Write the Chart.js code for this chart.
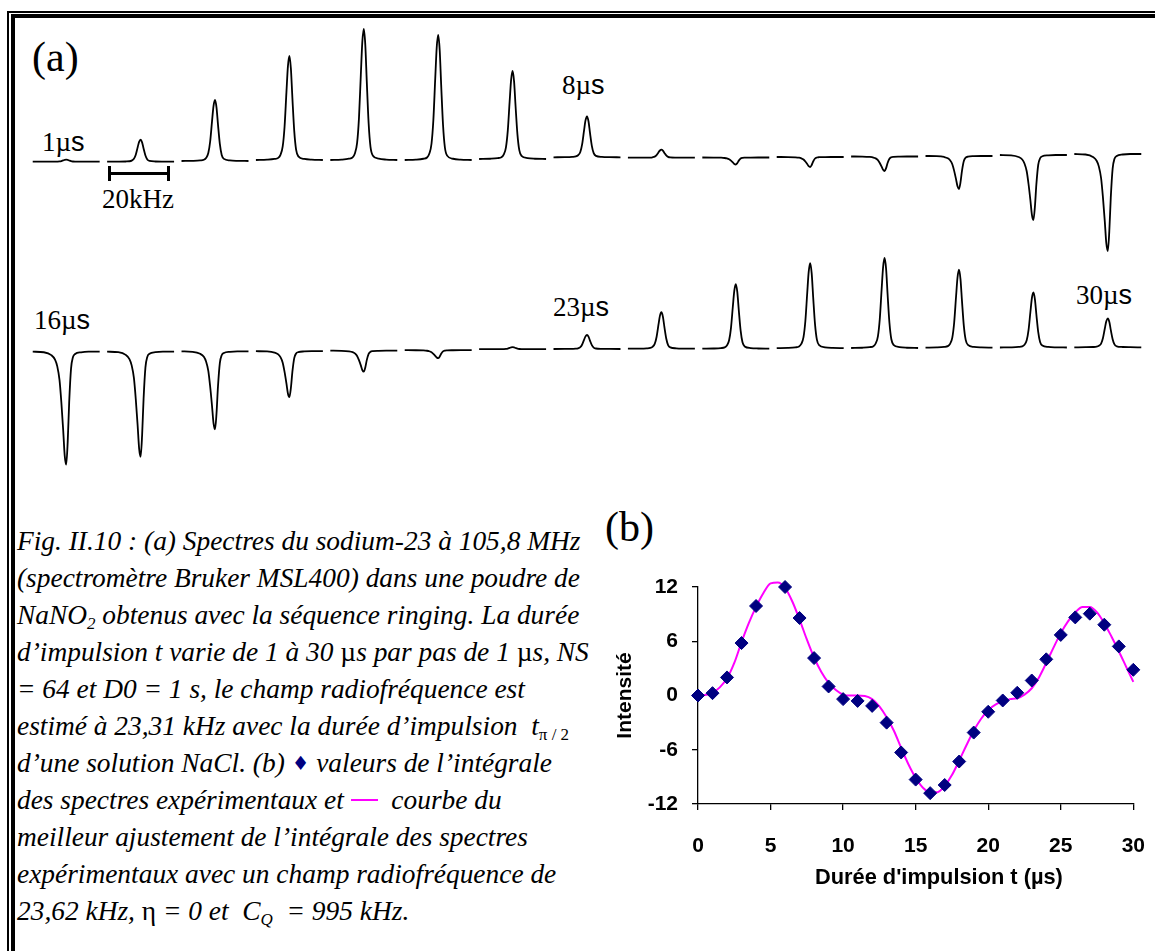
<!DOCTYPE html>
<html lang="fr">
<head>
<meta charset="utf-8">
<title>Fig. II.10</title>
<script src="https://cdn.jsdelivr.net/npm/chart.js@4.4.1/dist/chart.umd.min.js"></script>
<style>
  html, body { margin: 0; padding: 0; background: #fff; }
  #page { position: relative; width: 1155px; height: 951px; overflow: hidden; background: #fff; }
  .rule { position: absolute; background: #000; }
  .lbl { position: absolute; white-space: nowrap; line-height: 1; color: #000;
         font-family: "Liberation Serif", "Times New Roman", serif; }
  .s { font-family: "Liberation Sans", Arial, sans-serif; }
  .axtitle { position: absolute; white-space: nowrap; line-height: 1; color: #000;
             font-family: "Liberation Sans", Arial, sans-serif; font-weight: bold; font-size: 21.8px; }
  canvas { position: absolute; }
  #caption { position: absolute; left: 17px; top: 523px; white-space: nowrap; color: #000;
             font-family: "Liberation Serif", "Times New Roman", serif; font-style: italic;
             font-size: 27.4px; line-height: 37px; }
  #caption sub { font-size: 0.62em; line-height: 0; vertical-align: -0.28em; }
  #caption .up { font-style: normal; }
  #caption .dia { font-family: "DejaVu Sans", sans-serif; font-style: normal; color: #000080;
                  font-size: 0.72em; vertical-align: 0.08em; }
  #caption .mag { display: inline-block; width: 27px; height: 2px; background: #ff00ff; vertical-align: 0.32em; }
</style>
</head>
<body>
<div id="page">
  <!-- double frame, left and top only -->
  <div class="rule" style="left:7px;top:11px;width:1148px;height:1.5px"></div>
  <div class="rule" style="left:7px;top:11px;width:1.5px;height:940px"></div>
  <div class="rule" style="left:11px;top:14px;width:1144px;height:3.5px"></div>
  <div class="rule" style="left:11px;top:14px;width:4px;height:937px"></div>

  <div class="lbl" style="left:32px;top:36px;font-size:42px">(a)</div>
  <div class="lbl" style="left:42px;top:129px;font-size:27px">1µ<span class="s">s</span></div>
  <div class="lbl" style="left:562px;top:72px;font-size:27px">8µ<span class="s">s</span></div>
  <div class="lbl" style="left:34px;top:307px;font-size:27px">16µ<span class="s">s</span></div>
  <div class="lbl" style="left:553px;top:294px;font-size:27px">23µ<span class="s">s</span></div>
  <div class="lbl" style="left:1076px;top:282px;font-size:27px">30µ<span class="s">s</span></div>
  <div class="lbl" style="left:102px;top:186px;font-size:27px">20kHz</div>

  <!-- 20 kHz scale bar -->
  <div class="rule" style="left:109px;top:172px;width:60px;height:2.5px"></div>
  <div class="rule" style="left:108px;top:166px;width:2.5px;height:15px"></div>
  <div class="rule" style="left:167px;top:166px;width:2.5px;height:15px"></div>

  <canvas id="row1" width="1116" height="255" style="left:29px;top:15px"></canvas>
  <canvas id="row2" width="1116" height="240" style="left:29px;top:240px"></canvas>

  <div class="lbl" style="left:605px;top:506px;font-size:42px">(b)</div>
  <!-- wider than the page on purpose: the right tick-label padding falls outside -->
  <canvas id="fitChart" width="569" height="343" style="left:600px;top:557px"></canvas>
  <!-- x title sits right of the axis centre in the original -->
  <div class="axtitle" style="left:815px;top:866px">Durée d'impulsion t (µs)</div>

  <div id="caption">Fig. II.10 : (a) Spectres du sodium-23 à 105,8 MHz<br>(spectromètre Bruker MSL400) dans une poudre de<br>NaNO<sub>2</sub> obtenus avec la séquence ringing. La durée<br>d’impulsion t varie de 1 à 30 <span class="up">µ</span>s par pas de 1 <span class="up">µ</span>s, NS<br>= 64 et D0 = 1 s, le champ radiofréquence est<br>estimé à 23,31 kHz avec la durée d’impulsion &nbsp;t<sub class="up">π / 2</sub><br>d’une solution NaCl. (b) <span class="dia">♦</span> valeurs de l’intégrale<br>des spectres expérimentaux et <span class="mag"></span> &nbsp;courbe du<br>meilleur ajustement de l’intégrale des spectres<br>expérimentaux avec un champ radiofréquence de<br>23,62 kHz, <span class="up">η</span> = 0 et &nbsp;C<sub>Q</sub> &nbsp;= 995 kHz.</div>
</div>

<script>
// (a) spectra, pulse length 1..30 us: peak height and baseline drift (arbitrary units)
const pulseRow1 = [1, 2, 3, 4, 5, 6, 7, 8, 9, 10, 11, 12, 13, 14, 15];
const peakRow1 = [2, 22, 61, 104, 131, 125, 88, 41, 8, -7, -10, -14.5, -33, -65, -97];
const driftRow1 = [0, 0, 0.7, 1.7, 1.7, 1.7, 2.7, 4.4, 4, 4.2, 4.7, 5.2, 5.7, 6.7, 7.7];

const pulseRow2 = [16, 17, 18, 19, 20, 21, 22, 23, 24, 25, 26, 27, 28, 29, 30];
const peakRow2 = [-113, -105, -78, -46, -21, -8, 2, 14, 36.5, 64.5, 85, 90, 78, 55, 29];
const driftRow2 = [0, 0, 0.3, 0.5, 1, 1.5, 2.5, 2.7, 3, 3, 3.5, 3.7, 4, 4.2, 4.4];

// line shape of one spectrum: offset (in pulse steps) and relative height
const shapeX = [-0.45, -0.3, -0.2, -0.15, -0.12, -0.09, -0.065, -0.04, -0.02, 0,
                0.02, 0.04, 0.065, 0.09, 0.12, 0.2, 0.3, 0.45];
const shapeUp = [0, 0.003, 0.01, 0.02, 0.05, 0.13, 0.32, 0.65, 0.9, 1,
                 0.88, 0.6, 0.28, 0.1, 0.035, 0.01, 0.003, 0];
const shapeDown = [0, 0.005, 0.03, 0.07, 0.13, 0.25, 0.45, 0.7, 0.92, 1,
                   0.8, 0.45, 0.15, 0.05, 0.02, 0.005, 0, 0];

// (b) integral of the spectra vs pulse length (t = 5 is off the top of the plot)
const pulseT = [0, 1, 2, 3, 4, 5, 6, 7, 8, 9, 10, 11, 12, 13, 14, 15,
                16, 17, 18, 19, 20, 21, 22, 23, 24, 25, 26, 27, 28, 29, 30];
const integral = [0, 0.26, 2.0, 5.8, 9.9, null, 12.0, 8.57, 4.14, 1.0, -0.4, -0.6, -1.15, -3.0, -6.3, -9.3,
                  -10.8, -9.9, -7.3, -4.1, -1.8, -0.55, 0.3, 1.66, 4.0, 6.7, 8.64, 9.05, 7.83, 5.43, 2.84];

// best fit curve
const fitT = [0, 0.5, 1, 1.5, 2, 2.5, 3, 3.5, 4, 4.5, 5, 5.5, 6, 6.5, 7, 7.5, 8, 8.5, 9, 9.5,
              10, 10.5, 11, 11.5, 12, 12.5, 13, 13.5, 14, 14.5, 15, 15.5, 16, 16.5, 17, 17.5, 18, 18.5, 19, 19.5,
              20, 20.5, 21, 21.5, 22, 22.5, 23, 23.5, 24, 24.5, 25, 25.5, 26, 26.5, 27, 27.5, 28, 28.5, 29, 29.5, 30];
const fitI = [0, 0.05, 0.3, 0.9, 1.9, 3.6, 5.9, 8.0, 9.8, 11.3, 12.4, 12.5, 11.9, 10.4, 8.4, 6.2, 4.2, 2.6, 1.4, 0.6,
              0.1, 0, 0, -0.05, -0.4, -1.2, -2.4, -3.9, -5.8, -7.6, -9.1, -10.2, -10.7, -10.7, -10.0, -8.8, -7.2, -5.5, -3.9, -2.6,
              -1.6, -1.0, -0.65, -0.4, -0.3, 0.1, 0.8, 2.0, 3.6, 5.3, 6.9, 8.2, 9.2, 9.8, 9.8, 9.2, 8.0, 6.5, 4.9, 3.2, 1.5];

const xTickValues = [0, 5, 10, 15, 20, 25, 30];
const yTickValues = [-12, -6, 0, 6, 12];

function spectrumRow(canvasId, pulses, peaks, drift, refPx, topPx) {
  const canvas = document.getElementById(canvasId);
  const datasets = pulses.map((p, i) => {
    const shape = peaks[i] >= 0 ? shapeUp : shapeDown;
    return {
      data: shapeX.map((dx, k) => ({ x: p + dx, y: drift[i] + peaks[i] * shape[k] })),
      borderColor: "#000",
      borderWidth: 1.8,
      pointRadius: 0,
      cubicInterpolationMode: "monotone",
      fill: false,
    };
  });

  new Chart(canvas, {
    type: "line",
    data: { datasets: datasets },
    options: {
      responsive: false,
      animation: false,
      events: [],
      layout: { padding: 0 },
      plugins: { legend: { display: false }, tooltip: { enabled: false } },
      scales: {
        x: { type: "linear", display: false, min: pulses[0] - 0.5, max: pulses[pulses.length - 1] + 0.5 },
        // one unit = one pixel, baseline of the first spectrum at refPx
        y: { display: false, min: refPx - topPx - canvas.height, max: refPx - topPx },
      },
    },
  });
}

spectrumRow("row1", pulseRow1, peakRow1, driftRow1, 161.7, 15);
spectrumRow("row2", pulseRow2, peakRow2, driftRow2, 351.7, 240);

const axisFont = { family: "'Liberation Sans', Arial, sans-serif", size: 21, weight: "bold" };

new Chart(document.getElementById("fitChart"), {
  type: "line",
  data: {
    datasets: [
      {
        label: "valeurs",
        data: pulseT.map((t, i) => ({ x: t, y: integral[i] })),
        showLine: false,
        pointStyle: "rectRot",
        pointRadius: 6.5,
        backgroundColor: "#000080",
        borderColor: "#000080",
        borderWidth: 1,
        clip: false,
      },
      {
        label: "ajustement",
        data: fitT.map((t, i) => ({ x: t, y: fitI[i] })),
        borderColor: "#ff00ff",
        borderWidth: 2,
        pointRadius: 0,
        cubicInterpolationMode: "monotone",
        fill: false,
        clip: false,
      },
    ],
  },
  options: {
    responsive: false,
    animation: false,
    events: [],
    layout: { padding: { top: 30, right: 0, bottom: 10, left: 0 } },
    plugins: { legend: { display: false }, tooltip: { enabled: false } },
    scales: {
      x: {
        type: "linear",
        min: 0,
        max: 30,
        afterFit: (s) => { s.height = 86; },
        afterBuildTicks: (s) => { s.ticks = xTickValues.map((v) => ({ value: v })); },
        ticks: { color: "#000", font: axisFont, padding: 24 },
        grid: { display: true, drawOnChartArea: false, drawTicks: true, tickLength: 6, color: "#000", lineWidth: 1.3 },
        border: { display: true, color: "#000", width: 1.3 },
        title: { display: false },
      },
      y: {
        min: -12,
        max: 12,
        afterFit: (s) => { s.width = 98; },
        afterBuildTicks: (s) => { s.ticks = yTickValues.map((v) => ({ value: v })); },
        ticks: { color: "#000", font: axisFont, padding: 14 },
        grid: { display: true, drawOnChartArea: false, drawTicks: true, tickLength: 6, color: "#000", lineWidth: 1.3 },
        border: { display: true, color: "#000", width: 1.3 },
        title: { display: true, text: "Intensité", color: "#000", font: axisFont, padding: { top: 13, bottom: 0 } },
      },
    },
  },
});
</script>
</body>
</html>
